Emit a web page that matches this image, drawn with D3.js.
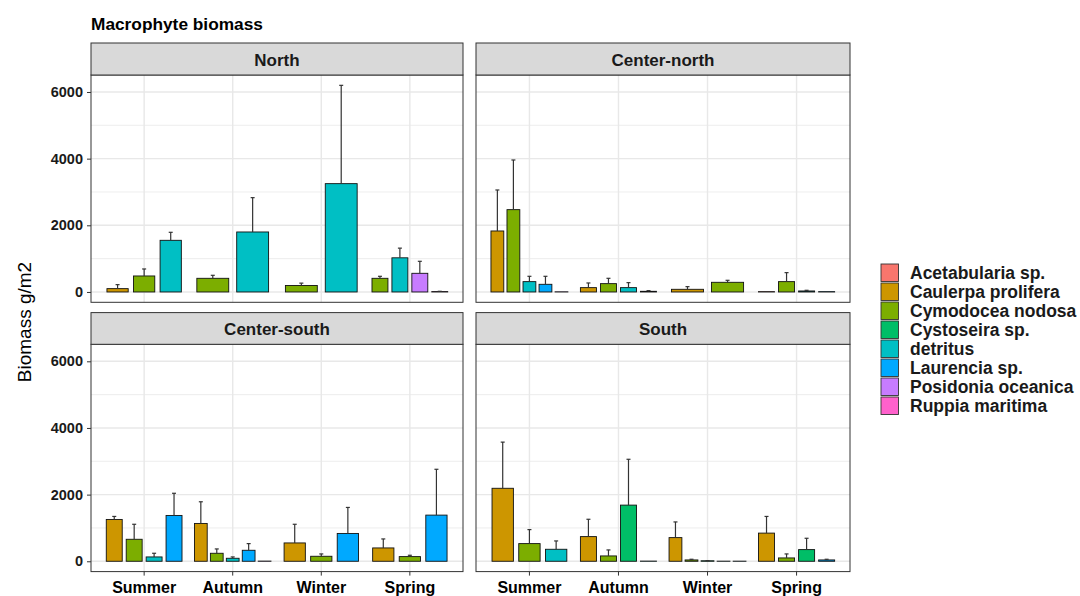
<!DOCTYPE html>
<html>
<head>
<meta charset="utf-8">
<script src="https://cdn.jsdelivr.net/npm/d3@7"></script>
<style>
  body { margin: 0; background: #fff; }
  svg { display: block; font-family: "Liberation Sans", Arial, sans-serif; }
</style>
</head>
<body>
<script>
// Seasons on the x axis, regions as facets, species as dodged bars
const seasons = ["Summer", "Autumn", "Winter", "Spring"];
const regions = ["North", "Center-north", "Center-south", "South"];
const species = ["Acetabularia sp.", "Caulerpa prolifera", "Cymodocea nodosa", "Cystoseira sp.",
                 "detritus", "Laurencia sp.", "Posidonia oceanica", "Ruppia maritima"];
const speciesColors = ["#F8766D", "#CD9600", "#7CAE00", "#00BE67", "#00BFC4", "#00A9FF", "#C77CFF", "#FF61CC"];
const yTicks = [0, 2000, 4000, 6000];

// Mean biomass (g/m2) and standard deviation: [season, species, mean, sd]
const northData = [
  ["Summer", "Caulerpa prolifera", 100, 120],
  ["Summer", "Cymodocea nodosa", 480, 210],
  ["Summer", "detritus", 1550, 240],
  ["Autumn", "Cymodocea nodosa", 410, 90],
  ["Autumn", "detritus", 1800, 1030],
  ["Winter", "Cymodocea nodosa", 195, 70],
  ["Winter", "detritus", 3250, 2950],
  ["Spring", "Cymodocea nodosa", 410, 60],
  ["Spring", "detritus", 1025, 290],
  ["Spring", "Posidonia oceanica", 560, 360],
  ["Spring", "Ruppia maritima", 12, 8]
];
const centerNorthData = [
  ["Summer", "Caulerpa prolifera", 1830, 1230],
  ["Summer", "Cymodocea nodosa", 2470, 1490],
  ["Summer", "detritus", 310, 160],
  ["Summer", "Laurencia sp.", 230, 240],
  ["Summer", "Posidonia oceanica", 5, 0],
  ["Autumn", "Caulerpa prolifera", 130, 140],
  ["Autumn", "Cymodocea nodosa", 250, 160],
  ["Autumn", "detritus", 130, 150],
  ["Autumn", "Laurencia sp.", 20, 20],
  ["Winter", "Caulerpa prolifera", 80, 80],
  ["Winter", "Cymodocea nodosa", 290, 60],
  ["Spring", "Acetabularia sp.", 10, 0],
  ["Spring", "Cymodocea nodosa", 310, 270],
  ["Spring", "detritus", 30, 20],
  ["Spring", "Laurencia sp.", 10, 0]
];
const centerSouthData = [
  ["Summer", "Caulerpa prolifera", 1255, 90],
  ["Summer", "Cymodocea nodosa", 660, 450],
  ["Summer", "detritus", 130, 110],
  ["Summer", "Laurencia sp.", 1375, 665],
  ["Autumn", "Caulerpa prolifera", 1135, 650],
  ["Autumn", "Cymodocea nodosa", 240, 130],
  ["Autumn", "detritus", 90, 40],
  ["Autumn", "Laurencia sp.", 330, 200],
  ["Autumn", "Posidonia oceanica", 5, 0],
  ["Winter", "Caulerpa prolifera", 550, 560],
  ["Winter", "Cymodocea nodosa", 150, 70],
  ["Winter", "Laurencia sp.", 835, 780],
  ["Spring", "Caulerpa prolifera", 400, 270],
  ["Spring", "Cymodocea nodosa", 140, 40],
  ["Spring", "Laurencia sp.", 1385, 1375]
];
const southData = [
  ["Summer", "Caulerpa prolifera", 2190, 1385],
  ["Summer", "Cymodocea nodosa", 530, 420],
  ["Summer", "detritus", 360, 250],
  ["Autumn", "Caulerpa prolifera", 740, 520],
  ["Autumn", "Cymodocea nodosa", 160, 180],
  ["Autumn", "Cystoseira sp.", 1685, 1375],
  ["Autumn", "detritus", 5, 0],
  ["Winter", "Caulerpa prolifera", 710, 470],
  ["Winter", "Cymodocea nodosa", 40, 20],
  ["Winter", "Cystoseira sp.", 15, 5],
  ["Winter", "detritus", 3, 0],
  ["Winter", "Laurencia sp.", 3, 0],
  ["Spring", "Caulerpa prolifera", 845, 500],
  ["Spring", "Cymodocea nodosa", 100, 120],
  ["Spring", "Cystoseira sp.", 350, 340],
  ["Spring", "Laurencia sp.", 40, 20]
];
const regionData = [northData, centerNorthData, centerSouthData, southData];

// Layout
const W = 1080, H = 596;
const cols = [[91, 463], [476, 850]];
const rows = [{ strip: 43, top: 75, bottom: 302.3 }, { strip: 312.6, top: 344.3, bottom: 571.6 }];
const ink = "#333333";
const gridColor = "#E8E8E8";

const color = d3.scaleOrdinal().domain(species).range(speciesColors);

const allRows = regionData.flat();
const dataMax = d3.max(allRows, d => d[2] + d[3]);
const pad = dataMax * 0.05;
const yDomain = [0 - pad, dataMax + pad];

const svg = d3.select("body").append("svg").attr("width", W).attr("height", H);

svg.append("text")
  .attr("x", 91).attr("y", 30)
  .attr("font-size", 17.3).attr("font-weight", "bold").attr("fill", "#000")
  .text("Macrophyte biomass");

svg.append("text")
  .attr("transform", "translate(31,322) rotate(-90)")
  .attr("text-anchor", "middle")
  .attr("font-size", 19).attr("fill", "#000")
  .text("Biomass g/m2");

regions.forEach((region, i) => {
  const col = cols[i % 2], row = rows[Math.floor(i / 2)];
  const [left, right] = col;
  const g = svg.append("g");

  const x = d3.scaleBand().domain(seasons).range([left, right]).paddingInner(0).paddingOuter(0.1);
  const y = d3.scaleLinear().domain(yDomain).range([row.bottom, row.top]);

  // panel background and grid
  g.append("rect").attr("x", left).attr("y", row.top).attr("width", right - left)
    .attr("height", row.bottom - row.top).attr("fill", "#fff");

  const minor = d3.range(1000, dataMax + pad, 2000);
  g.selectAll(".minor").data(minor).join("line")
    .attr("x1", left).attr("x2", right)
    .attr("y1", d => y(d)).attr("y2", d => y(d))
    .attr("stroke", gridColor).attr("stroke-width", 0.8);
  g.selectAll(".major").data(yTicks).join("line")
    .attr("x1", left).attr("x2", right)
    .attr("y1", d => y(d)).attr("y2", d => y(d))
    .attr("stroke", gridColor).attr("stroke-width", 1.4);
  g.selectAll(".vmajor").data(seasons).join("line")
    .attr("x1", d => x(d) + x.bandwidth() / 2).attr("x2", d => x(d) + x.bandwidth() / 2)
    .attr("y1", row.top).attr("y2", row.bottom)
    .attr("stroke", gridColor).attr("stroke-width", 1.4);

  // dodged bars
  const data = regionData[i];
  const bars = [];
  seasons.forEach(s => {
    const grp = data.filter(d => d[0] === s);
    const n = grp.length;
    const slot = x.bandwidth() * 0.9 / n;
    const start = x(s) + x.bandwidth() * 0.05;
    grp.forEach((d, k) => {
      bars.push({ sp: d[1], mean: d[2], sd: d[3], cx: start + slot * (k + 0.5), w: slot * 0.8 });
    });
  });

  g.selectAll(".bar").data(bars).join("rect")
    .attr("x", d => d.cx - d.w / 2).attr("width", d => d.w)
    .attr("y", d => y(d.mean)).attr("height", d => y(0) - y(d.mean))
    .attr("fill", d => color(d.sp)).attr("stroke", "#111").attr("stroke-width", 0.9);

  const eb = bars.filter(d => d.sd > 0);
  g.selectAll(".err").data(eb).join("line")
    .attr("x1", d => d.cx).attr("x2", d => d.cx)
    .attr("y1", d => y(d.mean)).attr("y2", d => y(d.mean + d.sd))
    .attr("stroke", ink).attr("stroke-width", 1.2);
  g.selectAll(".cap").data(eb).join("line")
    .attr("x1", d => d.cx - 2).attr("x2", d => d.cx + 2)
    .attr("y1", d => y(d.mean + d.sd)).attr("y2", d => y(d.mean + d.sd))
    .attr("stroke", ink).attr("stroke-width", 1.2);

  // panel border
  g.append("rect").attr("x", left).attr("y", row.top).attr("width", right - left)
    .attr("height", row.bottom - row.top).attr("fill", "none")
    .attr("stroke", ink).attr("stroke-width", 1);

  // strip
  g.append("rect").attr("x", left).attr("y", row.strip).attr("width", right - left)
    .attr("height", row.top - row.strip).attr("fill", "#D9D9D9")
    .attr("stroke", ink).attr("stroke-width", 1);
  g.append("text")
    .attr("x", (left + right) / 2).attr("y", (row.strip + row.top) / 2 + 6.5)
    .attr("text-anchor", "middle").attr("font-size", 17).attr("font-weight", "bold")
    .attr("fill", "#1a1a1a").text(region);

  // y axis on the left column
  if (i % 2 === 0) {
    const ya = g.append("g").attr("transform", `translate(${left},0)`)
      .call(d3.axisLeft(y).tickValues(yTicks).tickSize(4).tickPadding(4).tickFormat(d3.format("d")));
    ya.select(".domain").remove();
    ya.selectAll(".tick line").attr("stroke", ink).attr("stroke-width", 1);
    ya.selectAll(".tick text").attr("font-size", 14.5).attr("font-weight", "bold")
      .attr("fill", "#1a1a1a").attr("font-family", "Liberation Sans, Arial, sans-serif");
  }
  // x axis on the bottom row
  if (i >= 2) {
    const xa = g.append("g").attr("transform", `translate(0,${row.bottom})`)
      .call(d3.axisBottom(x).tickSize(4).tickPadding(4));
    xa.select(".domain").remove();
    xa.selectAll(".tick line").attr("stroke", ink).attr("stroke-width", 1);
    xa.selectAll(".tick text").attr("font-size", 16).attr("font-weight", "bold")
      .attr("fill", "#000").attr("y", 21.5).attr("dy", 0)
      .attr("font-family", "Liberation Sans, Arial, sans-serif");
  }
});

// legend
const legend = svg.append("g");
const keyTop = 263.5, keyStep = 19, keyX = 881;
species.forEach((sp, k) => {
  legend.append("rect")
    .attr("x", keyX).attr("y", keyTop + k * keyStep + 0.5)
    .attr("width", 17.5).attr("height", 17.5)
    .attr("fill", color(sp)).attr("stroke", ink).attr("stroke-width", 0.9);
  legend.append("text")
    .attr("x", 910).attr("y", keyTop + k * keyStep + 15)
    .attr("font-size", 17.5).attr("font-weight", "bold").attr("fill", "#1a1a1a")
    .text(sp);
});
</script>
</body>
</html>
